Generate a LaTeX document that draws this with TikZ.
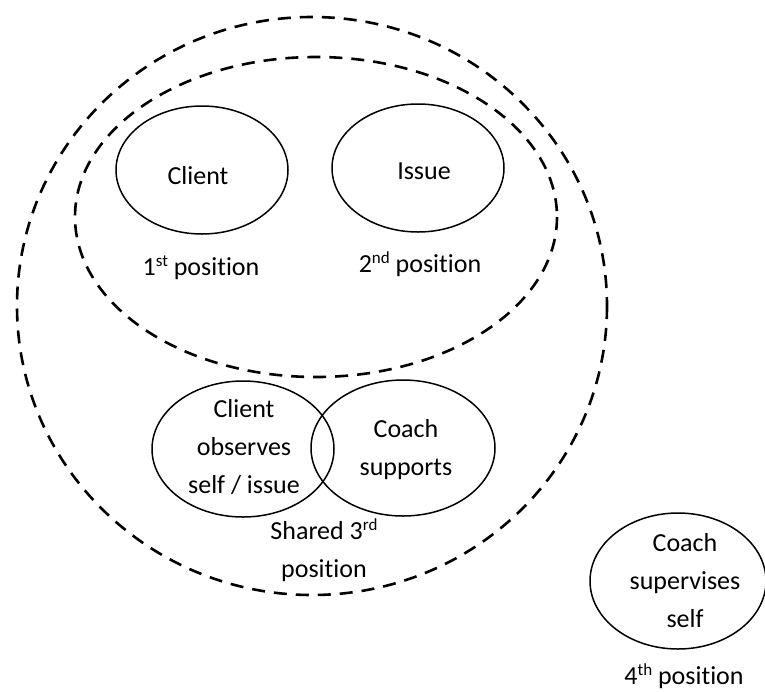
\documentclass[tikz,border=0pt]{standalone}
\usepackage{fontspec}
\setmainfont[Ligatures=NoCommon]{Carlito}
\usetikzlibrary{shapes.geometric}
\newcommand\supx[1]{\raisebox{9pt}{\fontsize{17}{17}\selectfont #1}}
\begin{document}
\begin{tikzpicture}[x=1pt,y=-1pt,
  dashring/.style={draw,line width=2.6pt,dash pattern=on 13pt off 9pt},
  posring/.style={draw,line width=1.5pt,ellipse,inner sep=0pt},
  txt/.style={inner sep=0pt,anchor=base,font=\fontsize{26}{37.7}\selectfont,align=center}]
\useasboundingbox (0,0) rectangle (765,691);
\begin{scope}
\clip (0,0) rectangle (765,691);
\draw[dashring] (312,306) ellipse [x radius=295, y radius=289];
\draw[dashring] (316,217) ellipse [x radius=241, y radius=160];
\node[posring,minimum width=172pt,minimum height=128pt] (client) at (202,170) {};
\node[posring,minimum width=172pt,minimum height=128pt] (issue) at (418,168) {};
\node[posring,minimum width=182pt,minimum height=136pt] (observes) at (243,449) {};
\node[posring,minimum width=184pt,minimum height=136pt] (supports) at (403,448) {};
\node[posring,minimum width=176pt,minimum height=136pt] (supervises) at (678,581) {};
\end{scope}
\node[txt] (tclient) at (198,184.5) {Client};
\node[txt] (tissue) at (424,179.5) {Issue};
\node[txt] (p1) at (201,275) {1\supx{st} position};
\node[txt] (p2) at (420,272) {2\supx{nd} position};
\node[txt] (tobs) at (244,493) {Client\\observes\\self / issue};
\node[txt] (tsup) at (406,475) {Coach\\supports};
\node[txt] (p3) at (324,577) {Shared 3\supx{rd}\\position};
\node[txt] (tsv) at (685,627) {Coach\\supervises\\self};
\node[txt] (p4) at (684,684) {4\supx{th} position};
\end{tikzpicture}
\end{document}
